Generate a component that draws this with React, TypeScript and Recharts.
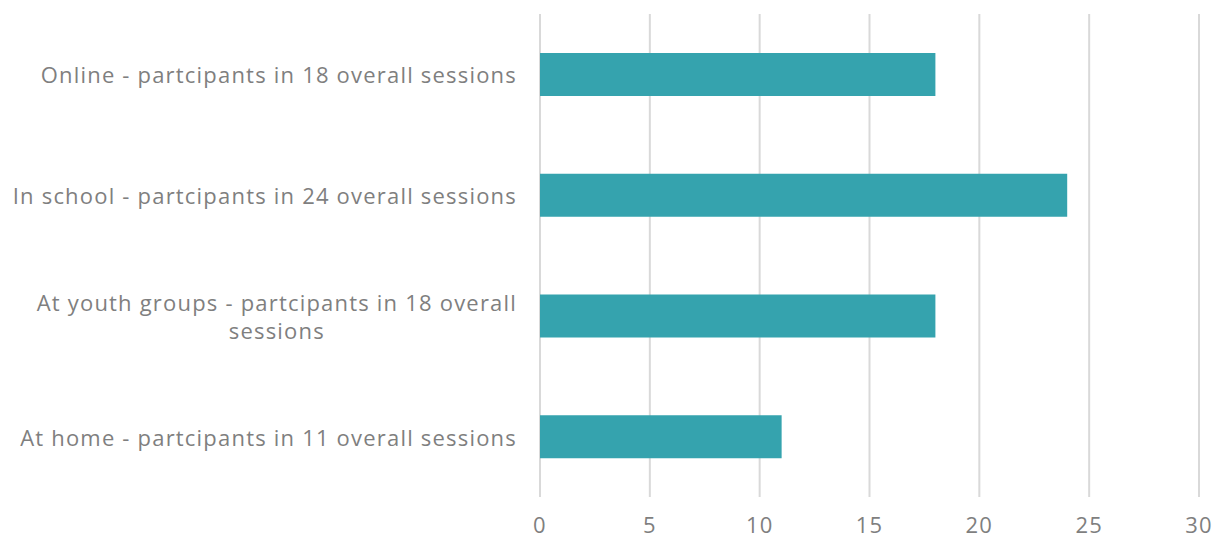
import { BarChart, Bar, XAxis, YAxis, CartesianGrid } from 'recharts';

const categories = [
  'Online - partcipants in 18 overall sessions',
  'In school - partcipants in 24 overall sessions',
  'At youth groups - partcipants in 18 overall sessions',
  'At home - partcipants in 11 overall sessions',
];
const participants = [18, 24, 18, 11];
const xTicks = [0, 5, 10, 15, 20, 25, 30];

const data = categories.map((name, i) => ({ name, value: participants[i] }));

const FONT = '"Open Sans", sans-serif';
const FONT_SIZE = 22;
const SPACING = 1.2;
const TEXT_COLOR = '#7f7f7f';
const MAX_LABEL_WIDTH = 540;

let ctx: CanvasRenderingContext2D | null = null;
function measure(s: string) {
  if (!ctx) ctx = document.createElement('canvas').getContext('2d');
  const extra = s.length * SPACING;
  if (!ctx) return s.length * FONT_SIZE * 0.5 + extra;
  ctx.font = `${FONT_SIZE}px ${FONT}`;
  return ctx.measureText(s).width + extra;
}

function wrap(text: string) {
  const words = text.split(' ');
  const lines: string[] = [];
  let cur = '';
  words.forEach((w) => {
    const next = cur ? cur + ' ' + w : w;
    if (cur && measure(next) > MAX_LABEL_WIDTH) {
      lines.push(cur);
      cur = w;
    } else {
      cur = next;
    }
  });
  if (cur) lines.push(cur);
  return lines;
}

function CategoryTick({ x, y, payload }: any) {
  const lines = wrap(String(payload.value));
  const blockWidth = Math.max(...lines.map(measure));
  const cx = x - blockWidth / 2;
  const lineHeight = FONT_SIZE * 1.28;
  const startY = y - ((lines.length - 1) * lineHeight) / 2;
  return (
    <text
      fill={TEXT_COLOR}
      fontSize={FONT_SIZE}
      fontFamily={FONT}
      letterSpacing={SPACING}
      textAnchor="middle"
      dominantBaseline="central"
    >
      {lines.map((l, i) => (
        <tspan key={i} x={cx} y={startY + i * lineHeight}>
          {l}
        </tspan>
      ))}
    </text>
  );
}

export default function App() {
  return (
    <div style={{ position: 'absolute', left: 0, top: 0, background: '#fff' }}>
      <BarChart
        width={1219}
        height={540}
        data={data}
        layout="vertical"
        margin={{ top: 14, right: 20, left: 0, bottom: 0 }}
      >
        <CartesianGrid horizontal={false} stroke="#d9d9d9" strokeWidth={2} />
        <XAxis
          type="number"
          domain={[0, 30]}
          ticks={xTicks}
          axisLine={false}
          tickLine={false}
          tickSize={0}
          tickMargin={20}
          height={43}
          tick={{ fill: TEXT_COLOR, fontSize: FONT_SIZE, fontFamily: FONT, letterSpacing: SPACING }}
        />
        <YAxis
          type="category"
          dataKey="name"
          width={540}
          axisLine={false}
          tickLine={false}
          tickSize={0}
          tickMargin={23}
          interval={0}
          tick={<CategoryTick />}
        />
        <Bar dataKey="value" fill="#35a3ae" barSize={43} isAnimationActive={false} />
      </BarChart>
    </div>
  );
}
